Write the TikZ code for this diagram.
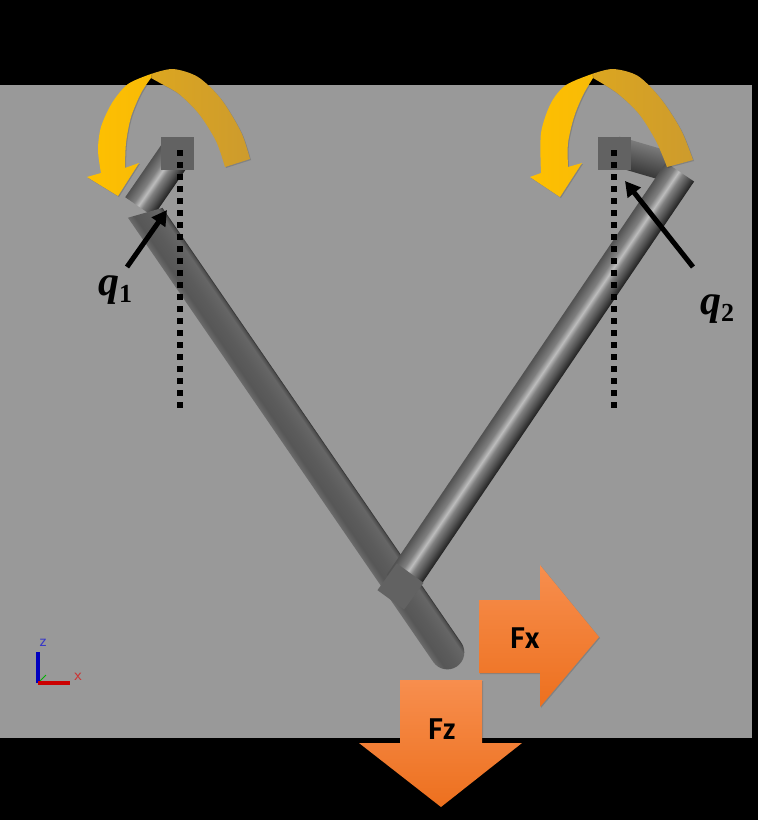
\documentclass[tikz,border=0pt]{standalone}
\usepackage{amsmath}
\usepackage{fontspec}
\setmainfont{Carlito}
\newfontfamily\qfont{Liberation Serif}
\usetikzlibrary{arrows.meta,shadows}
\pgfdeclarehorizontalshading{rodplain}{100bp}{color(0bp)=(black!58); color(25bp)=(black!58); color(34bp)=(black!66); color(50bp)=(black!64); color(68bp)=(black!60); color(73bp)=(black!70); color(75bp)=(black!82); color(100bp)=(black!82)}
\pgfdeclarehorizontalshading{rodbright}{100bp}{color(0bp)=(black!68); color(25bp)=(black!68); color(40bp)=(black!50); color(48bp)=(black!26); color(55bp)=(black!50); color(65bp)=(black!68); color(75bp)=(black!88); color(100bp)=(black!88)}
\pgfdeclarehorizontalshading{rodshort}{100bp}{color(0bp)=(black!78); color(25bp)=(black!78); color(75bp)=(black!52); color(100bp)=(black!52)}
\definecolor{floorgray}{RGB}{153,153,153}
\definecolor{jointgray}{RGB}{98,98,98}
\definecolor{yellowarc}{RGB}{255,192,0}
\definecolor{goldarc}{RGB}{205,155,45}
\definecolor{forcetop}{RGB}{247,142,78}
\definecolor{forcebot}{RGB}{237,112,30}
\tikzstyle{jointbox}=[rectangle, fill=jointgray, minimum size=33pt, inner sep=0pt]
\tikzstyle{softedge}=[drop shadow={shadow xshift=1pt, shadow yshift=-1pt, opacity=.15, fill=black}]
\tikzstyle{forcearrow}=[top color=forcetop, bottom color=forcebot, softedge]
\tikzstyle{forcelabel}=[font=\fontsize{32}{32}\selectfont\bfseries, text=black]
\tikzstyle{anglelabel}=[font=\qfont\fontsize{42}{42}\selectfont\bfseries, text=black, inner sep=0pt]
\tikzstyle{plumbline}=[black, line width=6pt, dash pattern=on 6pt off 6pt]
\tikzstyle{anglearrow}=[black, line width=5pt, -{Triangle[length=15pt,width=16pt]}]
\tikzstyle{axislabel}=[font=\sffamily\fontsize{17}{17}\selectfont, inner sep=0pt]

\begin{document}
\begin{tikzpicture}[x=1pt, y=-1pt]
      %
      \path[use as bounding box, fill=black] (0,0) rectangle (758,820);
      \fill[floorgray] (0,85) rectangle (752,738);
      %
      % Short links at the two base joints
      %
      \begin{scope}[transform canvas={shift={(175,155)}, rotate=-34.6}]
        \shade[shading=rodbright] (-17,0) rectangle (17,63);
      \end{scope}
      \begin{scope}[transform canvas={shift={(615,151)}, rotate=73.7}]
        \shade[shading=rodshort] (-15,0) rectangle (15,57);
      \end{scope}
      %
      % Long link on the left
      %
      \begin{scope}
        \clip (92,228) -- (197,198) -- (758,198) -- (758,820) -- (92,820) -- cycle;
        \begin{scope}[transform canvas={shift={(137.5,201.6)}, rotate=34.5}]
          \shade[shading=rodplain] (-17,0) -- (-17,547) arc (180:0:17) -- (17,0) -- cycle;
        \end{scope}
      \end{scope}
      %
      % Long link on the right
      %
      \begin{scope}[transform canvas={shift={(680,172)}, rotate=-34.1}]
        \shade[shading=rodbright] (-17,0) rectangle (17,498);
      \end{scope}
      %
      % Joints
      %
      \node[jointbox] (jointa) at (177.5,153.5) {};
      \node[jointbox] (jointb) at (614.5,153.5) {};
      \node[jointbox, rotate=-36] (jointc) at (400.5,586.5) {};
      %
      % Plumb lines
      %
      \coordinate (plumbatop) at (180,150);
      \coordinate (plumbabot) at (180,408);
      \coordinate (plumbbtop) at (614,150);
      \coordinate (plumbbbot) at (614,408);
      \draw[plumbline] (plumbatop) -- (plumbabot);
      \draw[plumbline] (plumbbtop) -- (plumbbbot);
      %
      % Curved arrow, left joint
      %
      \shade[left color=goldarc!70!yellowarc, right color=goldarc, softedge]
        plot[smooth] coordinates {(151,74) (173,69) (198,77) (221,99) (241,132) (250,159)}
        -- plot[smooth] coordinates {(225,167) (216,141) (199,114) (179,94) (160,83) (151,78)} -- cycle;
      \shade[left color=yellowarc, right color=yellowarc!85!goldarc, softedge]
        plot[smooth] coordinates {(151,74) (128,84) (112,103) (101,127) (98,150) (101,173)}
        -- (87,177) -- (118,196) -- (139,163)
        -- plot[smooth] coordinates {(125,168) (126,143) (131,117) (141,93) (151,78)} -- cycle;
      %
      % Curved arrow, right joint
      %
      \shade[left color=goldarc!70!yellowarc, right color=goldarc, softedge]
        plot[smooth] coordinates {(592,74) (613,69) (638,76) (661,99) (681,130) (693,160)}
        -- plot[smooth] coordinates {(667,167) (656,141) (639,114) (617,93) (593,78)} -- cycle;
      \shade[left color=yellowarc, right color=yellowarc!85!goldarc, softedge]
        plot[smooth] coordinates {(592,74) (566,85) (551,103) (541,133) (541,173)}
        -- (530,177) -- (560,197) -- (582,163)
        -- plot[smooth] coordinates {(568,167) (568,143) (574,117) (583,95) (593,78)} -- cycle;
      %
      % Angle labels
      %
      \node[anglelabel] (qone) at (115,290) {\itshape q\raisebox{-7pt}{\fontsize{26}{26}\selectfont\upshape 1}};
      \node[anglelabel] (qtwo) at (717,309) {\itshape q\raisebox{-7pt}{\fontsize{26}{26}\selectfont\upshape 2}};
      \coordinate (qonetail) at (127,267);
      \coordinate (qonetip) at (167,210);
      \coordinate (qtwotail) at (693,267);
      \coordinate (qtwotip) at (625,181);
      \draw[anglearrow] (qonetail) -- (qonetip);
      \draw[anglearrow] (qtwotail) -- (qtwotip);
      %
      % Force arrows
      %
      \shade[forcearrow] (479,600) -- (540,600) -- (540,565) -- (599,637) -- (540,707) -- (540,673) -- (479,673) -- cycle;
      \node[forcelabel] (fx) at (525,638) {Fx};
      \shade[forcearrow] (400,680) -- (482,680) -- (482,743) -- (522,743) -- (441,807) -- (359,743) -- (400,743) -- cycle;
      \node[forcelabel] (fz) at (442,729) {Fz};
      %
      % Frame axes
      %
      \coordinate (axo) at (38,683);
      \coordinate (axz) at (38,652);
      \coordinate (axx) at (70,683);
      \coordinate (axy) at (46,675);
      \draw[green!70!black, line width=1pt] (axo) -- (axy);
      \draw[blue!75!black, line width=4pt] (axo) -- (axz);
      \draw[red!80!black, line width=4pt] (axo) -- (axx);
      \node[axislabel, text=blue!55!gray] (zlabel) at (43,643) {z};
      \node[axislabel, text=red!60!gray] (xlabel) at (78,677) {x};
      %
    \end{tikzpicture}
\end{document}
